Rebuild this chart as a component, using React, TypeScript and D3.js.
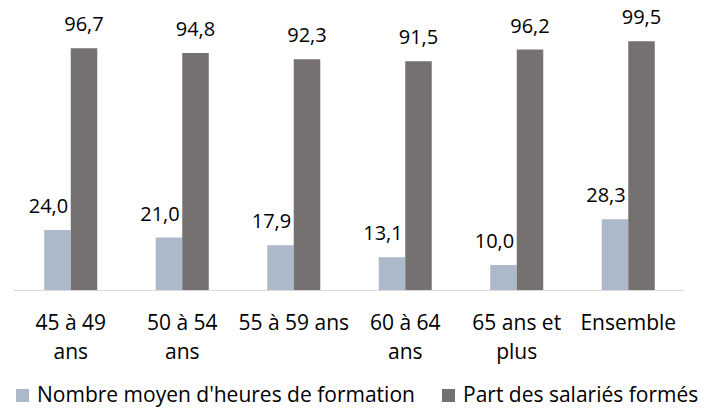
import React from "react";
import * as d3 from "d3";

const categories = ["45 à 49\nans", "50 à 54\nans", "55 à 59 ans", "60 à 64\nans", "65 ans et\nplus", "Ensemble"];
const heures = [24.0, 21.0, 17.9, 13.1, 10.0, 28.3];
const part = [96.7, 94.8, 92.3, 91.5, 96.2, 99.5];
const seriesNames = ["Nombre moyen d'heures de formation", "Part des salariés formés"];
const colors = ["#ACB9CA", "#767171"];

const W = 718;
const H = 410;
const FONT = "'Open Sans', sans-serif";

export default function App() {
  const x = d3.scaleBand<string>().domain(categories).range([15, 684]);
  const y = d3.scaleLinear().domain([0, 100]).range([290, 40]);
  const barW = 26.5;
  const fmt = (v: number) => v.toFixed(1).replace(".", ",");
  const base = y(0);

  return (
    <svg width={W} height={H} style={{ position: "absolute", left: 0, top: 0, background: "#fff" }} fontFamily={FONT}>
      {categories.map((c, i) => {
        const cx = (x(c) as number) + x.bandwidth() / 2;
        const yl = y(heures[i]);
        const yd = y(part[i]);
        return (
          <g key={c}>
            <rect x={cx - barW} y={yl} width={barW} height={base - yl} fill={colors[0]} />
            <rect x={cx} y={yd} width={barW} height={base - yd} fill={colors[1]} />
            <text x={cx - barW / 2 - 9} y={yl - 17} textAnchor="middle" fontSize={20} fill="#000">{fmt(heures[i])}</text>
            <text x={cx + barW / 2} y={yd - 17} textAnchor="middle" fontSize={20} fill="#000">{fmt(part[i])}</text>
            {c.split("\n").map((line, k) => (
              <text key={k} x={cx} y={330 + k * 29} textAnchor="middle" fontSize={21} fill="#000">{line}</text>
            ))}
          </g>
        );
      })}
      <line x1={14} x2={684} y1={base + 0.5} y2={base + 0.5} stroke="#D9D9D9" strokeWidth={1.2} />
      {seriesNames.map((s, i) => {
        const lx = i === 0 ? 16 : 442;
        return (
          <g key={s}>
            <rect x={lx} y={389} width={13} height={13} fill={colors[i]} />
            <text x={lx + 21} y={402} fontSize={21} fill="#000">{s}</text>
          </g>
        );
      })}
    </svg>
  );
}
